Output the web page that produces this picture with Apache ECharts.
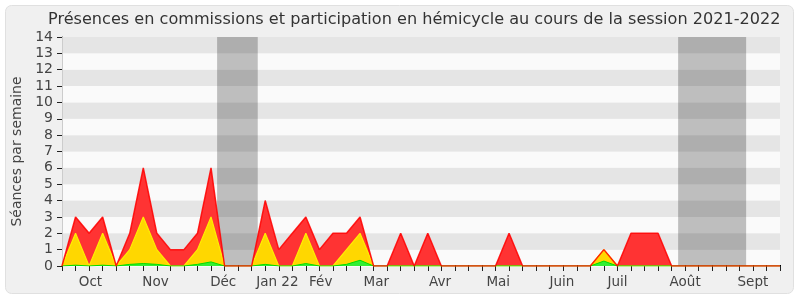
<!DOCTYPE html>
<html>
<head>
<meta charset="utf-8">
<script src="https://cdn.jsdelivr.net/npm/echarts@6/dist/echarts.min.js"></script>
<style>
html,body{margin:0;padding:0;background:#ffffff;}
#chart{width:800px;height:300px;}
</style>
</head>
<body>
<div id="chart"></div>
<script>
// Weekly sessions (index = week number from start of session)
var weeks = [0,1,2,3,4,5,6,7,8,9,10,11,12,13,14,15,16,17,18,19,20,21,22,23,24,25,26,27,28,29,30,31,32,33,34,35,36,37,38,39,40,41,42,43,44,45,46,47,48,49,50,51,52,53];
var totalSeances = [0,3,2,3,0,2,6,2,1,1,2,6,0,0,0,4,1,2,3,1,2,2,3,0,0,2,0,2,0,0,0,0,0,2,0,0,0,0,0,0,1,0,2,2,2,0,0,0,0,0,0,0,0,0];
var commissionSeances = [0,2,0,2,0,1,3,1,0,0,1,3,0,0,0,2,0,0,2,0,0,1,2,0,0,0,0,0,0,0,0,0,0,0,0,0,0,0,0,0,1,0,0,0,0,0,0,0,0,0,0,0,0,0];
var hemicycleSeances = [0,0.05,0,0.05,0,0.1,0.15,0.1,0,0,0.1,0.25,0,0,0,0.1,0,0,0.15,0,0,0.1,0.35,0,0,0,0,0,0,0,0,0,0,0,0,0,0,0,0,0,0.3,0,0,0,0,0,0,0,0,0,0,0,0,0];
var monthLabels = ["Oct","Nov","Déc","Jan 22","Fév","Mar","Avr","Mai","Juin","Juil","Août","Sept"];
var monthPositions = [2.1,6.9,11.9,15.9,19.1,23.2,27.9,32.2,36.9,41.0,46.0,51.0];
var vacations = [[11.45,14.45],[45.48,50.5]];

function pairs(vals){ return weeks.map(function(w,i){ return [w, vals[i]]; }); }

var labelMap = {};
monthPositions.forEach(function(p,i){ labelMap[Math.round(p*10)] = monthLabels[i]; });

var FONT = 'DejaVu Sans';
var chart = echarts.init(document.getElementById('chart'), null, {renderer:'canvas'});
chart.setOption({
  animation:false,
  textStyle:{fontFamily:FONT},
  graphic:[{type:'rect', z:-10, shape:{x:5.5,y:5.5,width:788,height:288,r:6}, style:{fill:'#f0f0f0', stroke:'#e0e0e0', lineWidth:1}}],
  title:{text:'Présences en commissions et participation en hémicycle au cours de la session 2021-2022', left:43, top:7,
    textStyle:{fontFamily:FONT, fontSize:16.1, fontWeight:'normal', color:'#333'}},
  grid:{left:62, right:20, top:37, bottom:34},
  xAxis:[
    {type:'value', min:0, max:53, interval:1, position:'bottom',
     axisLine:{show:true, onZero:false, lineStyle:{color:'#222', width:1}},
     axisTick:{show:true, length:5, lineStyle:{color:'#222'}},
     axisLabel:{show:false}, splitLine:{show:false}},
    {type:'value', min:0, max:53, interval:0.1, position:'bottom',
     axisLine:{show:false}, axisTick:{show:false}, splitLine:{show:false},
     axisLabel:{show:true, margin:9, fontSize:13.5, color:'#444', fontFamily:FONT,
       formatter:function(v){ var k=Math.round(v*10); return labelMap[k]||''; }}},
    {type:'value', min:0, max:53, interval:1, position:'top',
     axisLine:{show:true, lineStyle:{color:'#fafafa', width:2}},
     axisTick:{show:true, inside:false, length:1, lineStyle:{color:'#000'}},
     axisLabel:{show:false}, splitLine:{show:false}}
  ],
  yAxis:[
    {type:'value', min:0, max:14, interval:1,
     name:'Séances par semaine', nameLocation:'middle', nameGap:36, nameRotate:90,
     nameTextStyle:{fontSize:14, color:'#444', fontFamily:FONT},
     axisLine:{show:true, lineStyle:{color:'#222'}},
     axisTick:{show:true, length:5, lineStyle:{color:'#222'}},
     axisLabel:{fontSize:14, color:'#444', margin:9, fontFamily:FONT},
     splitLine:{show:false},
     splitArea:{show:true, areaStyle:{color:['#fafafa','#e5e5e5']}}},
    {type:'value', min:0, max:14, interval:1, position:'right',
     axisLine:{show:true, lineStyle:{color:'#cccccc'}}, axisTick:{show:false}, axisLabel:{show:false}, splitLine:{show:false}}
  ],
  series:[
    {type:'line', name:'vacances', data:[], z:1, silent:true,
     markArea:{silent:true, itemStyle:{color:'rgba(0,0,0,0.24)'},
       data: vacations.map(function(v){ return [{xAxis:v[0]},{xAxis:v[1]}]; })}},
    {type:'line', name:'total', data:pairs(totalSeances), z:3, symbol:'none',
     lineStyle:{width:0, opacity:0}, areaStyle:{color:'#ff3333', opacity:1}},
    {type:'line', name:'commission', data:pairs(commissionSeances), z:4, symbol:'none',
     lineStyle:{color:'#ffee00', width:1.2}, areaStyle:{color:'#ffd700', opacity:1}},
    {type:'line', name:'hemicycle', data:pairs(hemicycleSeances), z:5, symbol:'none',
     lineStyle:{color:'#00dd00', width:1}, areaStyle:{color:'#33ee33', opacity:1}},
    {type:'line', name:'total-ligne', data:pairs(totalSeances), z:6, symbol:'none',
     lineStyle:{color:'#ff0000', width:1.5, opacity:0.85}}
  ]
});
</script>
</body>
</html>
